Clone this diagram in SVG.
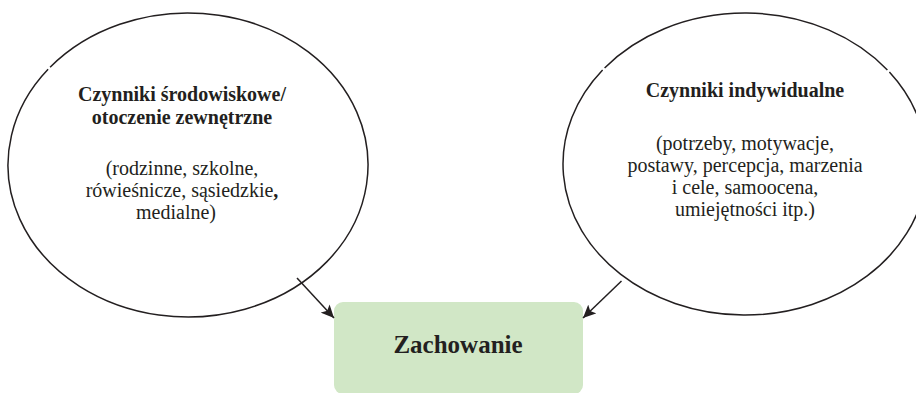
<svg xmlns="http://www.w3.org/2000/svg" width="916" height="393" viewBox="0 0 916 393">
<style>
  .outline { fill: none; stroke: #231f20; stroke-width: 1.5; }
  .t { font-family: "Liberation Serif", "Times New Roman", serif; font-size: 20px; fill: #231f20; text-anchor: middle; }
  .b { font-weight: bold; }
  .conn { stroke: #231f20; stroke-width: 1.5; fill: none; marker-end: url(#arrow); }
  .box { fill: #d1e7c6; }
</style>
<defs>
  <marker id="arrow" markerUnits="userSpaceOnUse" markerWidth="14" markerHeight="12" refX="13" refY="6" orient="auto">
    <path d="M0,0 L13,6 L0,12 L3,6 Z" fill="#231f20"/>
  </marker>
</defs>

<g id="node-environment">
  <path class="outline" d="M 50.1,67.3 A 180 152 0 1 1 48.1,69.35"/>
  <text class="t b"><tspan x="182" y="101.3">Czynniki środowiskowe/</tspan><tspan x="182" y="123.6">otoczenie zewnętrzne</tspan></text>
  <text class="t"><tspan x="182" y="174.8">(rodzinne, szkolne,</tspan><tspan x="182" y="197">rówieśnicze, sąsiedzkie<tspan class="b">,</tspan></tspan><tspan x="176" y="219.2">medialne)</tspan></text>
</g>

<g id="node-individual">
  <path class="outline" d="M 604.6,67.95 A 182 151 0 0 1 887.4,70.0 M 889.4,72.1 A 182 151 0 1 1 602.6,70.0"/>
  <text class="t b" x="745" y="97">Czynniki indywidualne</text>
  <text class="t"><tspan x="745" y="149.7">(potrzeby, motywacje,</tspan><tspan x="745" y="171.9">postawy, percepcja, marzenia</tspan><tspan x="745" y="194.1">i cele, samoocena,</tspan><tspan x="745" y="216.3">umiejętności itp.)</tspan></text>
</g>

<g id="node-behaviour">
  <rect class="box" x="334" y="302" width="249" height="92" rx="9" ry="9"/>
  <text class="t b" x="458" y="353" style="font-size:25px">Zachowanie</text>
</g>

<g id="connectors">
  <line class="conn" x1="297" y1="278" x2="334" y2="318"/>
  <line class="conn" x1="621.5" y1="281" x2="583" y2="318"/>
</g>
</svg>
